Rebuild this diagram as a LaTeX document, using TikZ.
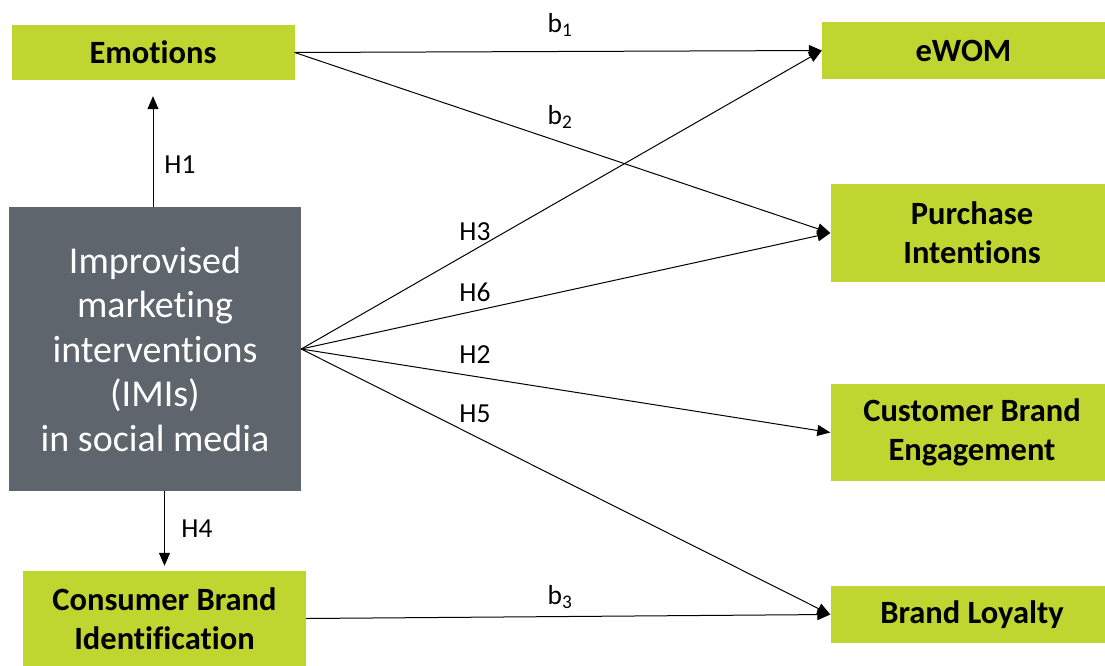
\documentclass[tikz,border=0pt]{standalone}
\usepackage{fontspec}
\setmainfont{Carlito}[Ligatures=NoCommon]
\usepackage{xcolor}
\usepackage{tikz}
\usetikzlibrary{arrows.meta}
\definecolor{limeGreen}{RGB}{191,214,48}
\definecolor{slateGrey}{RGB}{94,101,108}

\begin{document}
\begin{tikzpicture}[
  x=1pt, y=-1pt,
  var/.style={fill=limeGreen, align=center, inner sep=0pt,
              minimum width=283pt, font=\fontsize{32.5}{39}\selectfont\bfseries},
  imibox/.style={fill=slateGrey, text=white, align=center, inner sep=0pt,
              minimum width=292pt, minimum height=284pt,
              font=\fontsize{38}{44.5}\selectfont},
  hyp/.style={font=\fontsize{27.5}{30}\selectfont, inner sep=0pt},
  arr/.style={-{Triangle[length=13pt,width=11pt]}, line width=1pt}
]
\useasboundingbox (0,0) rectangle (1105,666);

\node[var, minimum height=55pt] (emo) at (153,52.5) {Emotions};
\node[imibox] (imi) at (155,349) {Improvised\\marketing\\interventions\\(IMIs)\\in social media};
\node[var, minimum height=95pt] (cbi) at (164.5,618.5) {Consumer Brand\\Identification};

\node[var, minimum height=57pt] (ewom) at (963.5,50.5) {eWOM};
\node[var, minimum height=98pt] (pi)  at (972,233) {Purchase\\Intentions};
\node[var, minimum height=97pt] (cbe) at (972,432.5) {Customer Brand\\Engagement};
\node[var, minimum height=57pt] (bl)  at (972,614.5) {Brand Loyalty};

\draw[arr, shorten >=16pt] (emo.south |- imi.north) -- (emo.south);
\draw[arr, shorten >=5pt] (cbi.north |- imi.south) -- (cbi.north);
\draw[arr] (emo.east) -- (ewom.west);
\draw[arr] (emo.east) -- (pi.west);
\draw[arr] (imi.east) -- (ewom.west);
\draw[arr] (imi.east) -- (pi.west);
\draw[arr] (imi.east) -- (cbe.west);
\draw[arr] (imi.east) -- (bl.west);
\draw[arr] (cbi.east) -- (bl.west);

\node[hyp] (h1) at (180,165) {H1};
\node[hyp] (h4) at (197,529) {H4};
\node[hyp] (h3) at (475,232) {H3};
\node[hyp] (h6) at (475,292) {H6};
\node[hyp] (h2) at (475,355) {H2};
\node[hyp] (h5) at (475,414) {H5};
\node[hyp] (b1) at (560,25) {b\textsubscript{1}};
\node[hyp] (b2) at (560,117) {b\textsubscript{2}};
\node[hyp] (b3) at (560,597) {b\textsubscript{3}};

\end{tikzpicture}
\end{document}
